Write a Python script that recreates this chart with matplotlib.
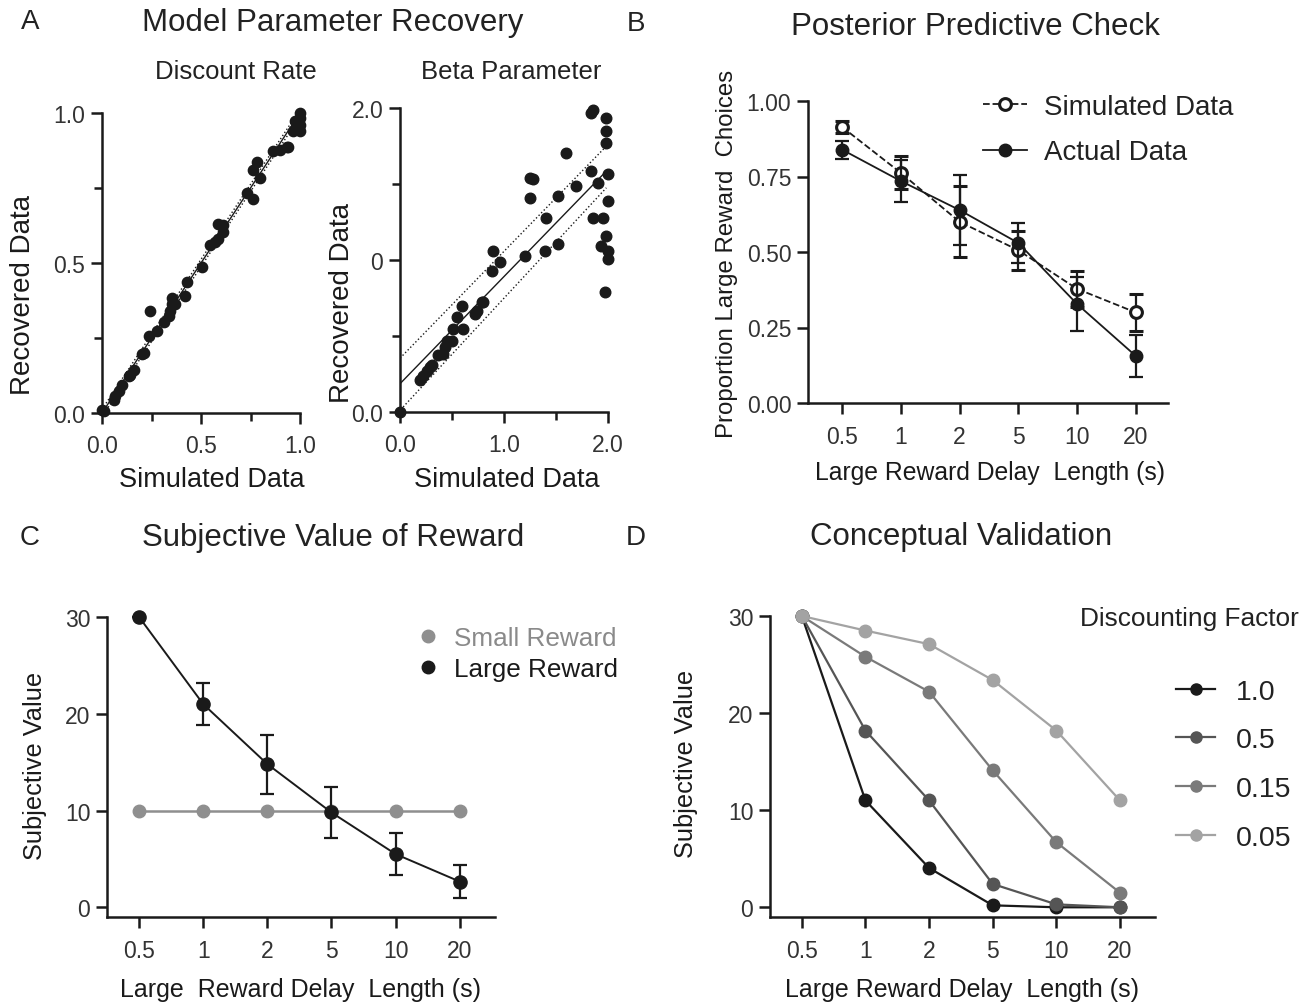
import matplotlib
matplotlib.use('Agg')
import matplotlib.pyplot as plt
import numpy as np
from matplotlib.lines import Line2D
from matplotlib.ticker import MultipleLocator

plt.rcParams['font.family'] = ['Liberation Sans', 'DejaVu Sans']

# ---------------- data ----------------
# Panel A - discount rate recovery
disc_sim = [0.00, 0.008, 0.059, 0.067, 0.084, 0.101, 0.134, 0.143, 0.160, 0.202, 0.210, 0.235,
            0.244, 0.277, 0.311, 0.336, 0.345, 0.353, 0.353, 0.370, 0.420, 0.429, 0.504, 0.546,
            0.571, 0.588, 0.588, 0.613, 0.613, 0.731, 0.765, 0.765, 0.782, 0.798, 0.866, 0.899,
            0.933, 0.941, 0.966, 0.975, 0.992, 1.0, 1.0, 1.0, 0.992, 1.0]
disc_rec = [0.011, 0.006, 0.045, 0.056, 0.073, 0.095, 0.123, 0.128, 0.145, 0.196, 0.201, 0.257,
            0.341, 0.274, 0.302, 0.324, 0.341, 0.363, 0.385, 0.363, 0.391, 0.436, 0.486, 0.559,
            0.570, 0.581, 0.631, 0.603, 0.626, 0.732, 0.715, 0.810, 0.838, 0.782, 0.872, 0.877,
            0.888, 0.888, 0.939, 0.972, 0.978, 1.0, 0.961, 0.939, 0.955, 0.983]
disc_fit = [0.0, 1.0]            # identity fit line endpoints
disc_band = 0.012                # half-width of dotted band

# Panel A - beta parameter recovery
beta_sim = [0.0, 0.192, 0.224, 0.256, 0.288, 0.304, 0.368, 0.416, 0.432, 0.448, 0.496, 0.512,
            0.544, 0.592, 0.608, 0.720, 0.736, 0.784, 0.800, 0.880, 0.896, 0.960, 1.200, 1.248,
            1.248, 1.280, 1.392, 1.408, 1.520, 1.520, 1.600, 1.696, 1.840, 1.840, 1.856, 1.856,
            1.904, 1.936, 1.952, 1.984, 1.984, 1.984, 2.0, 2.0, 1.984, 2.0, 2.0, 1.968]
beta_rec = [0.0, 0.208, 0.240, 0.273, 0.295, 0.306, 0.372, 0.383, 0.426, 0.470, 0.470, 0.546,
            0.623, 0.699, 0.546, 0.645, 0.667, 0.721, 0.721, 0.929, 1.060, 0.984, 1.027, 1.410,
            1.541, 1.530, 1.060, 1.279, 1.104, 1.421, 1.705, 1.486, 1.585, 1.967, 1.989, 1.279,
            1.508, 1.093, 1.279, 1.934, 1.847, 1.770, 1.563, 1.388, 1.158, 1.060, 1.005, 0.787]
beta_fit_x = [0.0, 1.984]
beta_fit_y = [0.186, 1.585]
beta_upper_y = [0.354, 1.749]
beta_lower_x = [0.03, 1.984]
beta_lower_y = [0.033, 1.475]

# Panel B - posterior predictive check
delays = ['0.5', '1', '2', '5', '10', '20']
sim_mean = [0.914, 0.762, 0.600, 0.506, 0.378, 0.300]
sim_err = [0.020, 0.055, 0.117, 0.065, 0.060, 0.060]
act_mean = [0.839, 0.735, 0.639, 0.530, 0.328, 0.156]
act_err = [0.030, 0.070, 0.117, 0.065, 0.090, 0.070]

# Panel C - subjective value of reward
small_val = [10, 10, 10, 10, 10, 10]
large_val = [30.0, 21.0, 14.8, 9.8, 5.5, 2.66]
large_err = [0.0, 2.2, 3.05, 2.6, 2.2, 1.7]

# Panel D - conceptual validation
factors = ['1.0', '0.5', '0.15', '0.05']
factor_vals = [
    [30, 11.0, 4.05, 0.2, 0.0, 0.0],
    [30, 18.2, 11.0, 2.4, 0.3, 0.0],
    [30, 25.8, 22.2, 14.1, 6.7, 1.5],
    [30, 28.5, 27.1, 23.4, 18.2, 11.0],
]
factor_colors = ['#1a1a1a', '#555555', '#7a7a7a', '#a3a3a3']

# ---------------- figure ----------------
W, H = 1314, 1004
fig = plt.figure(figsize=(W / 100, H / 100), dpi=100)
fig.patch.set_facecolor('white')


def rect(l, t, r, b):
    return [l / W, 1 - b / H, (r - l) / W, (b - t) / H]


TICK_FS = 16.5


def style(ax, fs=TICK_FS):
    for s in ['top', 'right']:
        ax.spines[s].set_visible(False)
    for s in ['left', 'bottom']:
        ax.spines[s].set_linewidth(1.8)
        ax.spines[s].set_color('#1a1a1a')
    ax.tick_params(which='major', length=8, width=1.8, colors='#1a1a1a',
                   labelsize=fs, labelcolor='#333333', pad=4)
    ax.tick_params(which='minor', length=6, width=1.8, colors='#1a1a1a')


def ftext(x, y, s, **kw):
    kw.setdefault('ha', 'center')
    kw.setdefault('va', 'center')
    kw.setdefault('color', '#222222')
    fig.text(x / W, 1 - y / H, s, **kw)


ink = '#1a1a1a'

# Panel letters and titles
ftext(30, 22, 'A', fontsize=20)
ftext(636, 24, 'B', fontsize=20)
ftext(30, 538, 'C', fontsize=20)
ftext(636, 538, 'D', fontsize=20)
ftext(333, 23, 'Model Parameter Recovery', fontsize=22.5)
ftext(975, 27, 'Posterior Predictive Check', fontsize=22.5)
ftext(333, 538, 'Subjective Value of Reward', fontsize=22.5)
ftext(961, 537, 'Conceptual Validation', fontsize=22.5)

# ---- Panel A left ----
ax1 = fig.add_axes(rect(102, 114, 300, 414))
style(ax1)
ax1.plot(disc_fit, disc_fit, color=ink, lw=1.0)
ax1.plot(disc_fit, [v + disc_band for v in disc_fit], color=ink, lw=1.0, ls=':')
ax1.plot(disc_fit, [v - disc_band for v in disc_fit], color=ink, lw=1.0, ls=':')
ax1.scatter(disc_sim, disc_rec, s=55, color=ink, zorder=3, clip_on=False)
ax1.set_xlim(0, 1)
ax1.set_ylim(0, 1)
ax1.set_xticks([0, 0.5, 1.0])
ax1.set_xticklabels(['0.0', '0.5', '1.0'])
ax1.set_yticks([0, 0.5, 1.0])
ax1.set_yticklabels(['0.0', '0.5', '1.0'])
ax1.xaxis.set_minor_locator(MultipleLocator(0.25))
ax1.yaxis.set_minor_locator(MultipleLocator(0.25))
ax1.tick_params(axis='x', pad=7)
ftext(236, 72, 'Discount Rate', fontsize=18.5)
ftext(212, 480, 'Simulated Data', fontsize=19.5, color=ink)
ftext(23, 295, 'Recovered Data', fontsize=20, rotation=90, color=ink)

# ---- Panel A right ----
ax2 = fig.add_axes(rect(400, 109, 608, 413))
style(ax2)
ax2.plot(beta_fit_x, beta_fit_y, color=ink, lw=1.0)
ax2.plot(beta_fit_x, beta_upper_y, color=ink, lw=1.0, ls=':')
ax2.plot(beta_lower_x, beta_lower_y, color=ink, lw=1.0, ls=':')
ax2.scatter(beta_sim, beta_rec, s=58, color=ink, zorder=3, clip_on=False)
ax2.set_xlim(0, 2)
ax2.set_ylim(0, 2)
ax2.set_xticks([0, 1, 2])
ax2.set_xticklabels(['0.0', '1.0', '2.0'])
ax2.set_yticks([0, 1, 2])
ax2.set_yticklabels(['0.0', '0', '2.0'])
ax2.xaxis.set_minor_locator(MultipleLocator(0.5))
ax2.yaxis.set_minor_locator(MultipleLocator(0.5))
ax2.tick_params(axis='x', pad=7)
ftext(511, 72, 'Beta Parameter', fontsize=18.5)
ftext(507, 480, 'Simulated Data', fontsize=19.5, color=ink)
ftext(342, 303, 'Recovered Data', fontsize=20, rotation=90, color=ink)

# ---- Panel B ----
ax3 = fig.add_axes(rect(808, 102, 1168, 404))
style(ax3)
xs = np.arange(len(delays))
ax3.errorbar(xs, sim_mean, yerr=sim_err, fmt='o', ls='--', color=ink, lw=1.3,
             mfc='white', mec=ink, mew=2.2, ms=8.5, capsize=5, elinewidth=1.6,
             capthick=1.6, zorder=3)
ax3.errorbar(xs, act_mean, yerr=act_err, fmt='o', ls='-', color=ink, lw=1.3,
             mfc=ink, mec=ink, ms=9, capsize=5, elinewidth=1.6, capthick=1.6, zorder=4)
ax3.set_xlim(-0.58, 5.55)
ax3.set_ylim(0, 1.0)
ax3.set_xticks(xs)
ax3.set_xticklabels(delays)
ax3.set_yticks([0, 0.25, 0.5, 0.75, 1.0])
ax3.set_yticklabels(['0.00', '0.25', '0.50', '0.75', '1.00'])
ax3.tick_params(axis='x', pad=8)
ftext(990, 473, 'Large Reward Delay  Length (s)', fontsize=17.8, color=ink)
ftext(727, 254, 'Proportion Large Reward  Choices', fontsize=17.3, rotation=90, color=ink)
hB = [Line2D([0], [0], ls='--', color=ink, lw=1.3, marker='o', mfc='white', mec=ink,
             mew=2.2, ms=8.5),
      Line2D([0], [0], ls='-', color=ink, lw=1.3, marker='o', mfc=ink, mec=ink, ms=9)]
fig.legend(hB, ['Simulated Data', 'Actual Data'], loc='upper left',
           bbox_to_anchor=(958 / W, 1 - 70 / H), frameon=False, fontsize=20,
           handlelength=1.6, handletextpad=0.6, labelspacing=0.7, labelcolor='#222222')

# ---- Panel C ----
ax4 = fig.add_axes(rect(107, 618, 495, 918))
style(ax4)
ax4.plot(xs, small_val, '-o', color='#8f8f8f', lw=1.8, ms=9, zorder=2, clip_on=False)
ax4.errorbar(xs, large_val, yerr=large_err, fmt='-o',
             color=ink, lw=1.4, ms=9.5, capsize=5, elinewidth=1.6, capthick=1.6,
             zorder=3, clip_on=False)
ax4.set_xlim(-0.5, 5.55)
ax4.set_ylim(-1.0, 30)
ax4.set_xticks(xs)
ax4.set_xticklabels(delays)
ax4.set_yticks([0, 10, 20, 30])
ax4.tick_params(axis='x', pad=8)
ftext(300, 990, 'Large  Reward Delay  Length (s)', fontsize=18, color=ink)
ftext(35, 766, 'Subjective Value', fontsize=18.3, rotation=90, color=ink)
hC = [Line2D([0], [0], ls='none', marker='o', color='#8f8f8f', ms=9),
      Line2D([0], [0], ls='none', marker='o', color=ink, ms=9)]
legC = fig.legend(hC, ['Small Reward', 'Large Reward'], loc='upper left',
                  bbox_to_anchor=(391 / W, 1 - 604 / H), frameon=False, fontsize=18.8,
                  handlelength=1.0, handletextpad=0.5, labelspacing=0.25)
legC.get_texts()[0].set_color('#8a8a8a')
legC.get_texts()[1].set_color('#1a1a1a')

# ---- Panel D ----
ax5 = fig.add_axes(rect(770, 617, 1155, 918))
style(ax5)
for vals, col in zip(factor_vals, factor_colors):
    ax5.plot(xs, vals, '-o', color=col, lw=1.6, ms=9, zorder=3, clip_on=False)
ax5.set_xlim(-0.5, 5.55)
ax5.set_ylim(-1.0, 30)
ax5.set_xticks(xs)
ax5.set_xticklabels(delays)
ax5.set_yticks([0, 10, 20, 30])
ax5.tick_params(axis='x', pad=8)
ftext(962, 990, 'Large Reward Delay  Length (s)', fontsize=18, color=ink)
ftext(686, 764, 'Subjective Value', fontsize=18.3, rotation=90, color=ink)
ftext(1189, 619, 'Discounting Factor', fontsize=18.9)
hD = [Line2D([0], [0], ls='-', marker='o', color=c, lw=1.6, ms=8) for c in factor_colors]
fig.legend(hD, factors, loc='upper left', bbox_to_anchor=(1150 / W, 1 - 654 / H),
           frameon=False, fontsize=20.5, handlelength=1.4, handletextpad=0.7,
           labelspacing=0.8, labelcolor='#222222')

fig.savefig('out.png', dpi=100, facecolor='white')
